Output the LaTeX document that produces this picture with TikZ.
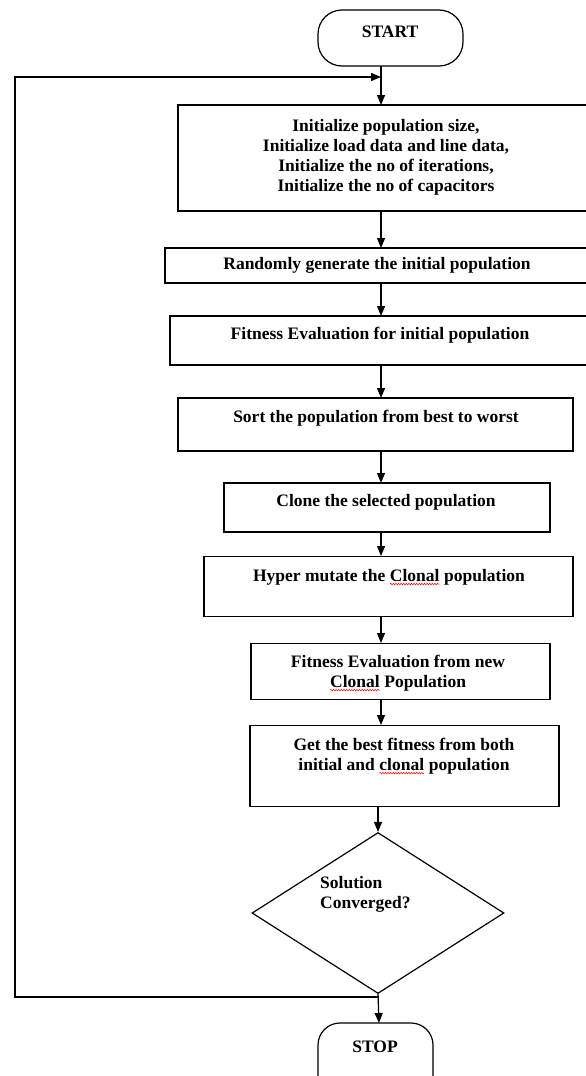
\documentclass[tikz,border=0pt]{standalone}
\usepackage{fontspec}
\setmainfont{Liberation Serif}
\usetikzlibrary{arrows.meta,shapes.geometric,decorations.pathmorphing}
\newcommand\spellwave[1]{\tikz[baseline=(w.base)]{\node[inner sep=0pt,outer sep=0pt] (w) {#1};\draw[red, line width=0.5pt, decorate, decoration={snake, amplitude=0.8pt, segment length=2.6pt}] ([yshift=-3pt]w.base west) -- ([yshift=-3pt]w.base east);}}
\begin{document}
\begin{tikzpicture}[x=1pt,y=-1pt,
  box/.style={draw, line width=1.6pt, inner sep=0pt, rectangle},
  term/.style={draw, line width=1.2pt, inner sep=0pt, rounded corners=24pt},
  lbl/.style={font=\fontsize{17.5}{20}\selectfont\bfseries, align=center, inner sep=0pt},
  flow/.style={line width=1.2pt, -{Triangle[length=10pt,width=8pt]}},
  plain/.style={line width=1.2pt}]
\useasboundingbox (0,0) rectangle (586,1076);
\clip (0,0) rectangle (586,1076);

% START
\node[term, minimum width=145pt, minimum height=56pt] (start) at (390.5,38) {};
\node[lbl] (tstart) at (390,32) {START};

% boxes
\node[box, minimum width=422pt, minimum height=106pt] (init) at (389,158) {};
\node[lbl] (tinit) at (386,157) {Initialize population size,\\ Initialize load data and line data,\\ Initialize the no of iterations,\\ Initialize the no of capacitors};

\node[box, minimum width=435pt, minimum height=35pt] (rand) at (382.5,265.5) {};
\node[lbl] (trand) at (377,265) {Randomly generate the initial population};

\node[box, minimum width=430pt, minimum height=49pt] (fit) at (385,340.5) {};
\node[lbl] (tfit) at (380,335) {Fitness Evaluation for initial population};

\node[box, minimum width=395pt, minimum height=53pt] (sort) at (375.5,424.5) {};
\node[lbl] (tsort) at (376,418) {Sort the population from best to worst};

\node[box, minimum width=326pt, minimum height=49pt] (clone) at (387,507.5) {};
\node[lbl] (tclone) at (386,502) {Clone the selected population};

\node[box, minimum width=369pt, minimum height=60pt] (hyper) at (388.5,586.5) {};
\node[lbl] (thyper) at (389,577) {Hyper mutate the \spellwave{Clonal} population};

\node[box, minimum width=299pt, minimum height=56pt] (fnew) at (400.5,671.5) {};
\node[lbl] (tfnew) at (398,673) {Fitness Evaluation from new\\ \spellwave{Clonal} Population};

\node[box, minimum width=309pt, minimum height=81pt] (best) at (404.5,766) {};
\node[lbl] (tbest) at (404,756) {Get the best fitness from both\\ initial and \spellwave{clonal} population};

% decision
\node[draw, line width=1.2pt, diamond, inner sep=0pt, minimum width=252pt, minimum height=161pt] (dec) at (378,913) {};
\node[lbl, align=left, anchor=west] (tdec) at (320,894) {Solution\\ Converged?};

% STOP
\node[term, rounded corners=22pt, minimum width=115pt, minimum height=80pt] (stop) at (375.5,1063) {};
\node[lbl] (tstop) at (375,1047) {STOP};

% connectors
\coordinate (top) at (381,77);
\coordinate (join) at (379,997);
\coordinate (lb) at (15,997);
\coordinate (lt) at (15,77);
\draw[flow] (381,66) -- (381,105);
\draw[flow] (381,211) -- (381,248);
\draw[flow] (381,283) -- (381,316);
\draw[flow] (381,365) -- (381,398);
\draw[flow] (381,451) -- (381,483);
\draw[flow] (381,532) -- (381,556);
\draw[flow] (381,617) -- (381,643);
\draw[flow] (381,699) -- (381,725);
\draw[flow] (378,806) -- (dec.north);
\draw[flow] (dec.south) -- (379,1023);
\draw[flow] (join) -- (lb) -- (lt) -- (top);
\end{tikzpicture}
\end{document}
